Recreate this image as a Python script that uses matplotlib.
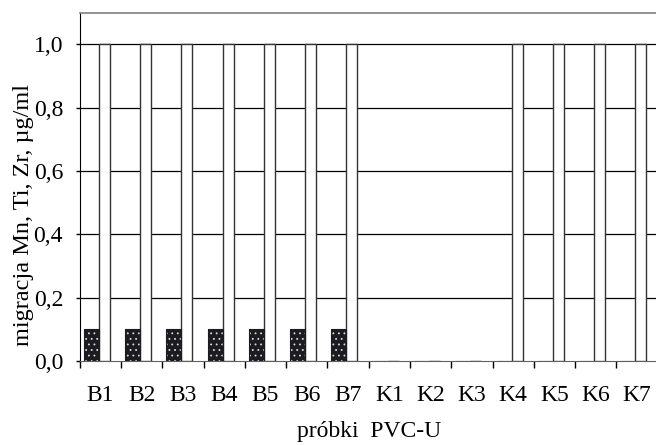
import matplotlib
matplotlib.use("Agg")
import matplotlib.pyplot as plt
import numpy as np

categories = ['B1', 'B2', 'B3', 'B4', 'B5', 'B6', 'B7',
              'K1', 'K2', 'K3', 'K4', 'K5', 'K6', 'K7']
mn_values = [0.1, 0.1, 0.1, 0.1, 0.1, 0.1, 0.1,
             0.0, 0.0, 0.0, 0.0, 0.0, 0.0, 0.0]
ti_zr_values = [1.0, 1.0, 1.0, 1.0, 1.0, 1.0, 1.0,
                0.0, 0.0, 0.0, 1.0, 1.0, 1.0, 1.0]
y_ticks = [0.0, 0.2, 0.4, 0.6, 0.8, 1.0]
y_tick_labels = ['0,0', '0,2', '0,4', '0,6', '0,8', '1,0']

plt.rcParams['font.family'] = ['Liberation Serif', 'DejaVu Serif']
plt.rcParams['hatch.linewidth'] = 0.6

fig = plt.figure(figsize=(6.56, 4.45), dpi=100)
ax = fig.add_axes([79.7 / 656, 84 / 445, 578 / 656, 348.4 / 445])

x = np.arange(len(categories))
# dark patterned bars (Mn)
ax.bar(x - 0.222, mn_values, width=0.363, color='#1c1c20', edgecolor='#d8d8d8',
       linewidth=0, hatch='...', zorder=3)
ax.bar(x - 0.222, mn_values, width=0.363, facecolor='none', edgecolor='#1c1c20',
       linewidth=0.8, zorder=4)
# white bars
ax.bar(x + 0.093, ti_zr_values, width=0.266, color='white', edgecolor='#333333',
       linewidth=1.0, zorder=3)

ax.set_xlim(-0.5, len(categories) - 0.5)
ax.set_ylim(0, 1.1)
ax.set_yticks(y_ticks)
ax.set_yticklabels(y_tick_labels, fontsize=17)
ax.set_xticks(x)
ax.set_xticklabels(categories, fontsize=17)
ax.set_xticks(np.arange(len(categories) + 1) - 0.5, minor=True)
ax.tick_params(axis='x', which='major', length=0, pad=17)
ax.tick_params(axis='x', which='minor', length=5, width=1, direction='out')
ax.tick_params(axis='y', length=3, width=1, direction='out', pad=9)

for yv in y_ticks[1:]:
    ax.axhline(yv, color='black', linewidth=0.9, zorder=1)

ax.spines['right'].set_visible(False)
ax.spines['top'].set_color('#808080')
ax.spines['top'].set_linewidth(1.2)
ax.spines['left'].set_color('black')
ax.spines['bottom'].set_color('#606060')

ax.set_ylabel('migracja Mn, Ti, Zr, µg/ml', fontsize=17.5)
ax.yaxis.set_label_coords((34 - 79.7) / 578, (230 - 84) / 348.4)
ax.set_xlabel('próbki  PVC-U', fontsize=17, labelpad=11)

fig.savefig('out.png', dpi=100)
